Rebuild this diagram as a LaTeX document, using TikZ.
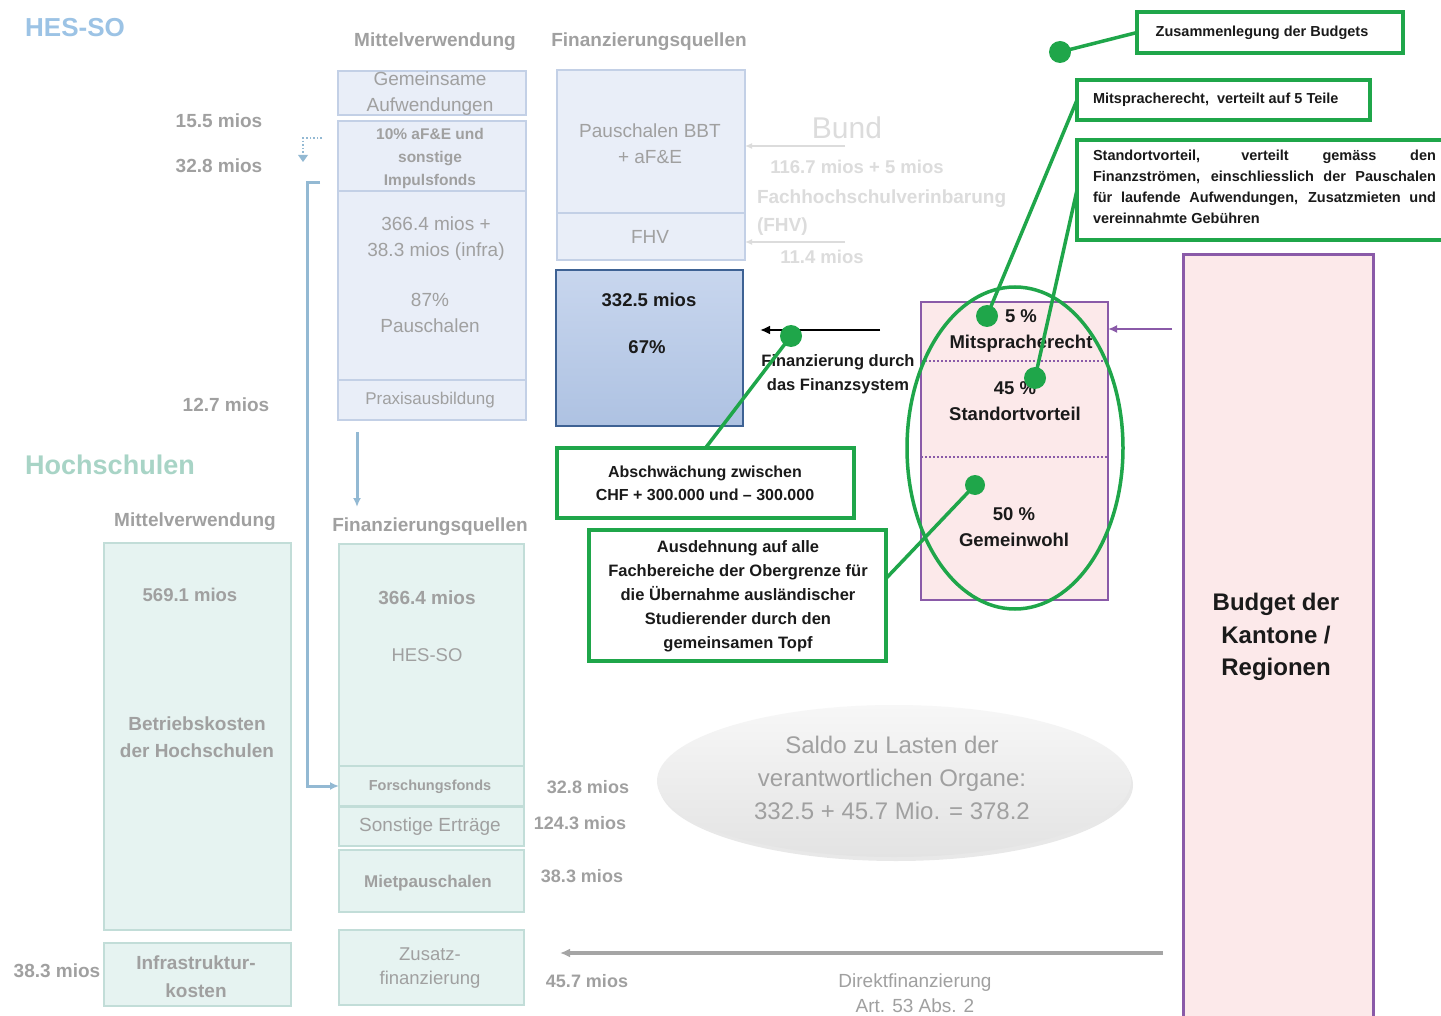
\documentclass[tikz,border=0pt]{standalone}
\usepackage{fontspec}
\setmainfont{Liberation Sans}
\usetikzlibrary{arrows.meta,shadows,shapes.geometric,calc}
\definecolor{hestxt}{HTML}{9CC3E5}
\definecolor{hochtxt}{HTML}{A8D4C6}
\definecolor{gtxt}{HTML}{A0A0A0}
\definecolor{ftxt}{HTML}{DCDCDC}
\definecolor{lavfill}{HTML}{E9EEF8}
\definecolor{lavbd}{HTML}{C3D0E6}
\definecolor{mintfill}{HTML}{E6F3F1}
\definecolor{mintbd}{HTML}{C2DDD8}
\definecolor{darkbd}{HTML}{3E6294}
\definecolor{darktop}{HTML}{C8D6EE}
\definecolor{darkbot}{HTML}{AEC2E2}
\definecolor{saltop}{HTML}{F7F7F7}
\definecolor{salbot}{HTML}{E3E3E3}
\definecolor{arrgray}{HTML}{A5A5A5}
\definecolor{pinkfill}{HTML}{FCE9EA}
\definecolor{purp}{HTML}{8A5AA8}
\definecolor{grn}{HTML}{1FA64A}
\definecolor{bluecon}{HTML}{93B9D3}
\definecolor{ink}{HTML}{1A1A1A}
\newcommand\fsz[2]{\fontsize{#1}{#2}\selectfont}
\begin{document}
\begin{tikzpicture}[x=1pt,y=-1pt,
  every node/.style={inner sep=0pt, outer sep=0pt},
  lbox/.style={draw=lavbd, fill=lavfill, line width=1.6pt, rectangle, anchor=north west, minimum width=188pt},
  mbox/.style={draw=mintbd, fill=mintfill, line width=1.6pt, rectangle, anchor=north west},
  gbox/.style={draw=grn, fill=white, line width=3.5pt, rectangle, anchor=north west},
  gline/.style={draw=grn, line width=3.5pt},
  gdot/.style={circle, fill=grn, minimum size=22pt},
  gray/.style={text=gtxt, font=\bfseries\fsz{19}{23}},
  grayr/.style={text=gtxt, font=\fsz{19}{26}, align=center},
  faint/.style={text=ftxt, font=\bfseries\fsz{18.5}{22}},
  blk/.style={text=ink, font=\bfseries\fsz{18.5}{26}, align=center},
  gtext/.style={text=ink, font=\bfseries\fsz{16}{23}, align=center},
]
\clip (0,0) rectangle (1441,1016);
\fill[white] (0,0) rectangle (1441,1016);

% titles
\node[text=hestxt, font=\bfseries\fsz{26}{30}] (hes) at (75,28) {HES-SO};
\node[text=hochtxt, font=\bfseries\fsz{27}{30}] (hoch) at (110,465) {Hochschulen};
\node[gray] (h1) at (435,42) {Mittelverwendung};
\node[gray] (h2) at (649,42) {Finanzierungsquellen};
\node[gray] (h3) at (195,522) {Mittelverwendung};
\node[gray] (h4) at (430,527) {Finanzierungsquellen};

% upper left column
\node[lbox, minimum height=44pt] (gem) at (338,71) {};
\node[grayr] (gemt) at (430,94) {Gemeinsame\\Aufwendungen};
\node[lbox, minimum height=70pt] (imp) at (338,121) {};
\node[text=gtxt, font=\bfseries\fsz{15.5}{23}, align=center] (impt) at (430,158) {10\% aF\&E und\\sonstige\\Impulsfonds};
\node[lbox, minimum height=189pt] (pau) at (338,191) {};
\node[grayr] (paut) at (436,239) {366.4 mios +\\38.3 mios (infra)};
\node[grayr] (paut2) at (430,313) {87\%\\Pauschalen};
\node[lbox, minimum height=40pt] (prax) at (338,380) {};
\node[text=gtxt, font=\fsz{17}{20}] (praxt) at (430,400) {Praxisausbildung};

\node[gray] (l1) at (219,121) {15.5 mios};
\node[gray] (l2) at (219,166) {32.8 mios};
\node[gray] (l3) at (226,405) {12.7 mios};

% upper right column
\node[lbox, minimum height=143pt] (bbt) at (557,70) {};
\node[grayr] (bbtt) at (650,144) {Pauschalen BBT\\+ aF\&E};
\node[lbox, minimum height=47pt] (fhv) at (557,213) {};
\node[grayr] (fhvt) at (650,237) {FHV};
\node[draw=darkbd, line width=2.2pt, top color=darktop, bottom color=darkbot, rectangle, anchor=north west, minimum width=187pt, minimum height=156pt] (dark) at (556,270) {};
\node[blk] (dk1) at (649,300) {332.5 mios};
\node[blk] (dk2) at (647,347) {67\%};

% Bund
\node[text=ftxt, font=\fsz{30}{34}] (bund) at (847,128) {Bund};
\coordinate (ba1) at (845,146);
\coordinate (ba2) at (845,242);
\draw[ftxt, line width=2pt, -{Latex[length=7pt,width=6pt]}] (ba1) -- (bbt.east |- ba1);
\draw[ftxt, line width=2pt, -{Latex[length=7pt,width=6pt]}] (ba2) -- (fhv.east |- ba2);
\node[faint] (b1) at (857,167) {116.7 mios + 5 mios};
\node[faint, anchor=west, font=\bfseries\fsz{19}{22}] (b2) at (757,199) {Fachhochschulverinbarung};
\node[faint, anchor=west, font=\bfseries\fsz{19}{22}] (b3) at (757,227) {(FHV)};
\node[faint] (b4) at (822,257) {11.4 mios};

% blue connectors
\coordinate (bs) at (320,183);
\coordinate (bt1) at (357,432);
\coordinate (bt2) at (357,507);
\draw[bluecon, line width=1.6pt, dotted] (322,138) -- (303,138) -- (303,156);
\fill[bluecon] (298,155) -- (308,155) -- (303,162) -- cycle;
\node[mbox, minimum width=185pt, minimum height=40pt] (forsch) at (339,766) {};
\draw[bluecon, line width=3pt, -{Latex[length=9pt,width=8pt]}] (bs) -- (307,183) |- (forsch.west);
\draw[bluecon, line width=3pt, -{Latex[length=9pt,width=8pt]}] (bt1) -- (bt2);

% lower columns
\node[mbox, minimum width=187pt, minimum height=387pt] (betr) at (104,543) {};
\node[gray, font=\bfseries\fsz{18.5}{22}] (betr1) at (190,595) {569.1 mios};
\node[gray, align=center, font=\bfseries\fsz{19}{27}] (betr2) at (197,737) {Betriebskosten\\der Hochschulen};
\node[mbox, minimum width=187pt, minimum height=63pt] (infra) at (104,943) {};
\node[gray, align=center, font=\bfseries\fsz{19}{28}] (infrat) at (196,977) {Infrastruktur-\\kosten};
\node[gray] (l4) at (57,971) {38.3 mios};

\node[mbox, minimum width=185pt, minimum height=222pt] (hesb) at (339,544) {};
\node[gray] (hes1) at (427,598) {366.4 mios};
\node[grayr, font=\fsz{18.5}{22}] (hes2) at (427,655) {HES-SO};
\node[text=gtxt, font=\bfseries\fsz{14.5}{18}] (forscht) at (430,787) {Forschungsfonds};
\node[mbox, minimum width=185pt, minimum height=39pt] (sonst) at (339,807) {};
\node[grayr] (sonstt) at (430,827) {Sonstige Erträge};
\node[mbox, minimum width=185pt, minimum height=62pt] (miet) at (339,850) {};
\node[text=gtxt, font=\bfseries\fsz{17}{20}] (mitt) at (428,883) {Mietpauschalen};
\node[mbox, minimum width=185pt, minimum height=75pt] (zusatz) at (339,930) {};
\node[grayr, font=\fsz{18.5}{24}] (zusatzt) at (430,968) {Zusatz-\\finanzierung};

\node[gray, font=\bfseries\fsz{18}{22}] (l5) at (588,787) {32.8 mios};
\node[gray, font=\bfseries\fsz{18}{22}] (l6) at (580,823) {124.3 mios};
\node[gray, font=\bfseries\fsz{18}{22}] (l7) at (582,876) {38.3 mios};
\node[gray, font=\bfseries\fsz{18}{22}] (l8) at (587,981) {45.7 mios};

% Saldo ellipse
\node[ellipse, minimum width=474pt, minimum height=152pt, top color=saltop, bottom color=salbot,
  drop shadow={opacity=0.18, shadow xshift=2pt, shadow yshift=-4pt}] (saldo) at (894,781) {};
\node[text=gtxt, font=\fsz{24}{33}, align=center] (saldot) at (892,778) {Saldo zu Lasten der\\verantwortlichen Organe:\\332.5 + 45.7 Mio. = 378.2};

% budget box
\node[draw=purp, line width=3pt, fill=pinkfill, rectangle, anchor=north west, minimum width=190pt, minimum height=790pt] (budget) at (1183,255) {};
\node[text=ink, font=\bfseries\fsz{24}{32.5}, align=center] (budt) at (1276,637) {Budget der\\Kantone /\\Regionen};

% direct financing arrow
\coordinate (da) at (1163,953);
\draw[arrgray, line width=3.5pt, -{Latex[length=10pt,width=9pt]}] (da) -- (560,953);
\node[text=gtxt, font=\fsz{19}{25}, align=center] (dir) at (915,993) {Direktfinanzierung\\Art. 53 Abs. 2};

% purple box
\node[draw=purp, line width=2.2pt, fill=pinkfill, rectangle, anchor=north west, minimum width=187pt, minimum height=298pt] (pbox) at (921,302) {};
\draw[purp, line width=2pt, dotted] (pbox.west |- 0,361) -- (pbox.east |- 0,361);
\draw[purp, line width=2pt, dotted] (pbox.west |- 0,457) -- (pbox.east |- 0,457);
\node[blk] (p1) at (1021,331) {5 \%\\Mitspracherecht};
\node[blk] (p2) at (1015,401) {45 \%\\Standortvorteil};
\node[blk] (p3) at (1014,527) {50 \%\\Gemeinwohl};
\coordinate (pa) at (1172,329);
\draw[purp, line width=2pt, -{Latex[length=9pt,width=8pt]}] (pa) -- (pbox.east |- pa);

% black arrow
\coordinate (ka) at (880,330);
\draw[black, line width=2.5pt, -{Latex[length=10pt,width=9pt]}] (ka) -- (760,330);
\node[gtext, font=\bfseries\fsz{16.5}{24}] (fin) at (838,374) {Finanzierung durch\\das Finanzsystem};

% green boxes
\node[gbox, minimum width=266pt, minimum height=41pt] (zus) at (1137,12) {};
\node[text=ink, font=\bfseries\fsz{14.5}{18}] (zust) at (1262,33) {Zusammenlegung der Budgets};
\node[gbox, minimum width=293pt, minimum height=40pt] (mit) at (1077,80) {};
\node[text=ink, font=\bfseries\fsz{14.5}{18}, anchor=west] (mitt2) at (1093,100) {Mitspracherecht,\ \ verteilt auf 5 Teile};
\node[gbox, minimum width=380pt, minimum height=100pt] (std) at (1077,140) {};
\node[text=ink, font=\bfseries\fsz{14.5}{21}, anchor=north west, align=left] (stdt) at (1093,150)
 {\makebox[343pt][s]{Standortvorteil, verteilt gemäss den}\\
  \makebox[343pt][s]{Finanzströmen, einschliesslich der Pauschalen}\\
  \makebox[343pt][s]{für laufende Aufwendungen, Zusatzmieten und}\\
  vereinnahmte Gebühren};
\node[gbox, minimum width=297pt, minimum height=70pt] (absch) at (557,448) {};
\node[gtext] (abscht) at (705,483) {Abschwächung zwischen\\CHF + 300.000 und -- 300.000};
\node[gbox, minimum width=297pt, minimum height=131pt] (ausd) at (589,530) {};
\node[gtext, font=\bfseries\fsz{16.5}{24}] (ausdt) at (738,596) {Ausdehnung auf alle\\Fachbereiche der Obergrenze für\\die Übernahme ausländischer\\Studierender durch den\\gemeinsamen Topf};

% green ellipse and connectors
\node[ellipse, draw=grn, line width=3.5pt, minimum width=216pt, minimum height=322pt] (gell) at (1015,448) {};
\coordinate (d1) at (1060,52);
\coordinate (d2) at (987,316);
\coordinate (d3) at (1035,378);
\coordinate (d4) at (975,485);
\coordinate (d5) at (791,336);
\draw[gline] (d1) -- (zus.west);
\draw[gline] (d2) -- (mit.west);
\draw[gline] (d3) -- (std.west);
\draw[gline] (d4) -- ($(ausd.north east)!0.37!(ausd.south east)$);
\draw[gline] (d5) -- (absch.north);
\node[gdot] (g1) at (d1) {};
\node[gdot] (g2) at (d2) {};
\node[gdot] (g3) at (d3) {};
\node[gdot, minimum size=20pt] (g4) at (d4) {};
\node[gdot] (g5) at (d5) {};
\end{tikzpicture}
\end{document}
